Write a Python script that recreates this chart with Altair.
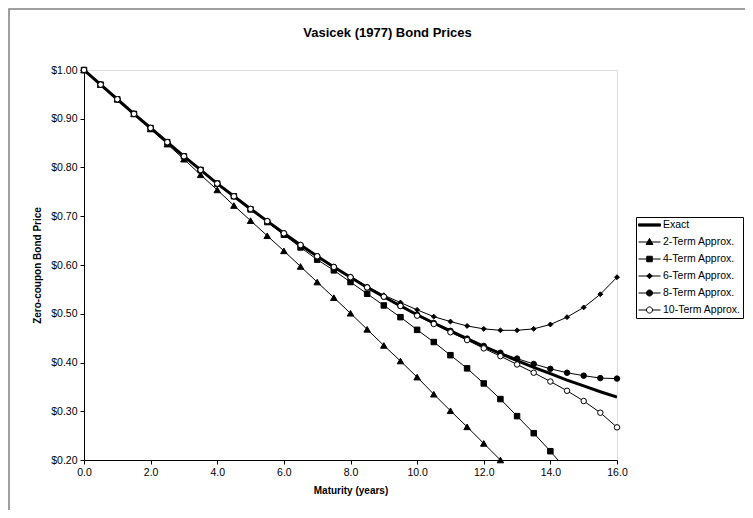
import altair as alt
import pandas as pd

maturity = [0.0, 0.5, 1.0, 1.5, 2.0, 2.5, 3.0, 3.5, 4.0, 4.5, 5.0, 5.5, 6.0, 6.5, 7.0, 7.5, 8.0,
            8.5, 9.0, 9.5, 10.0, 10.5, 11.0, 11.5, 12.0, 12.5, 13.0, 13.5, 14.0, 14.5, 15.0, 15.5, 16.0]
exact = [1.000, 0.970, 0.940, 0.910, 0.881, 0.852, 0.823, 0.795, 0.767, 0.741, 0.715, 0.690, 0.665, 0.641, 0.618, 0.596, 0.575,
         0.554, 0.535, 0.516, 0.498, 0.481, 0.465, 0.449, 0.433, 0.418, 0.404, 0.390, 0.377, 0.364, 0.352, 0.340, 0.329]
term2 = [1.000, 0.970, 0.940, 0.910, 0.879, 0.848, 0.817, 0.785, 0.754, 0.722, 0.691, 0.660, 0.629, 0.597, 0.565, 0.533, 0.501,
         0.468, 0.435, 0.403, 0.370, 0.335, 0.301, 0.268, 0.234, 0.200, 0.165, None, None, None, None, None, None]
term4 = [1.000, 0.970, 0.940, 0.910, 0.881, 0.852, 0.823, 0.795, 0.767, 0.741, 0.714, 0.688, 0.662, 0.636, 0.611, 0.589, 0.565,
         0.541, 0.517, 0.493, 0.467, 0.442, 0.415, 0.388, 0.357, 0.325, 0.290, 0.255, 0.218, 0.178, None, None, None]
term6 = [1.000, 0.970, 0.940, 0.910, 0.881, 0.852, 0.823, 0.795, 0.767, 0.741, 0.715, 0.690, 0.665, 0.641, 0.618, 0.596, 0.576,
         0.556, 0.538, 0.523, 0.508, 0.494, 0.484, 0.475, 0.469, 0.466, 0.466, 0.469, 0.478, 0.493, 0.513, 0.540, 0.575]
term8 = [1.000, 0.970, 0.940, 0.910, 0.881, 0.852, 0.823, 0.795, 0.767, 0.741, 0.715, 0.690, 0.665, 0.641, 0.618, 0.596, 0.575,
         0.554, 0.535, 0.516, 0.498, 0.481, 0.465, 0.449, 0.434, 0.420, 0.408, 0.397, 0.387, 0.379, 0.373, 0.368, 0.367]
term10 = [1.000, 0.970, 0.940, 0.910, 0.881, 0.852, 0.823, 0.795, 0.767, 0.741, 0.715, 0.690, 0.665, 0.641, 0.618, 0.596, 0.575,
          0.554, 0.535, 0.516, 0.496, 0.479, 0.462, 0.446, 0.429, 0.413, 0.396, 0.379, 0.361, 0.342, 0.321, 0.297, 0.267]

series_names = ["Exact", "2-Term Approx.", "4-Term Approx.", "6-Term Approx.", "8-Term Approx.", "10-Term Approx."]
x_ticks = [0, 2, 4, 6, 8, 10, 12, 14, 16]
y_ticks = [0.2, 0.3, 0.4, 0.5, 0.6, 0.7, 0.8, 0.9, 1.0]
title_text = "Vasicek (1977) Bond Prices"
x_title = "Maturity (years)"
y_title = "Zero-coupon Bond Price"

rows = []
for name, vals in zip(series_names, [exact, term2, term4, term6, term8, term10]):
    for t, v in zip(maturity, vals):
        if v is not None:
            rows.append({"t": t, "price": v, "series": name})
df = pd.DataFrame(rows)

FONT = "Liberation Sans"
xscale = alt.Scale(domain=[0, 16], nice=False, zero=False)
yscale = alt.Scale(domain=[0.2, 1.0], nice=False, zero=False)

xaxis = alt.Axis(values=x_ticks, format=".1f", title=x_title, grid=False,
                 labelFont=FONT, labelFontSize=10.5, labelColor="black", labelPadding=3,
                 titleFont=FONT, titleFontSize=10, titleFontWeight="bold", titleColor="black", titlePadding=8,
                 domainColor="black", tickColor="black", tickSize=4, labelFlush=False)
yaxis = alt.Axis(values=y_ticks, format="$.2f", title=y_title, grid=False,
                 labelFont=FONT, labelFontSize=10.5, labelColor="black", labelPadding=3,
                 titleFont=FONT, titleFontSize=10, titleFontWeight="bold", titleColor="black", titlePadding=8,
                 domainColor="black", tickColor="black", tickSize=4, labelFlush=False)

base = alt.Chart(df)
X = alt.X("t:Q", scale=xscale, axis=xaxis)
Y = alt.Y("price:Q", scale=yscale, axis=yaxis)

frame = alt.Chart(pd.DataFrame({"k": [0]})).mark_rect(
    fill=None, stroke="#808080", strokeWidth=1.5
).encode(x=alt.value(-75), x2=alt.value(720), y=alt.value(-61), y2=alt.value(480))

thin_lines = base.transform_filter("datum.series != 'Exact'").mark_line(
    clip=True, color="black", strokeWidth=1
).encode(x=X, y=Y, detail="series:N")

exact_line = base.transform_filter("datum.series == 'Exact'").mark_line(
    clip=True, color="black", strokeWidth=3
).encode(x=X, y=Y)

marker_specs = [
    ("2-Term Approx.", "triangle-up", 42, "black"),
    ("4-Term Approx.", "square", 30, "black"),
    ("6-Term Approx.", "diamond", 24, "black"),
    ("8-Term Approx.", "circle", 30, "black"),
    ("10-Term Approx.", "circle", 30, "white"),
]
marker_layers = []
for name, shape, size, fill in marker_specs:
    marker_layers.append(
        base.transform_filter(f"datum.series == '{name}' && datum.price >= 0.2").mark_point(
            shape=shape, size=size, filled=True, fill=fill, stroke="black", strokeWidth=1, opacity=1
        ).encode(x=X, y=Y)
    )

legend_paths = [
    "M-2,-0.2H2V0.2H-2Z",
    "M-2,0H2M0,-0.65L0.62,0.45H-0.62Z",
    "M-2,0H2M-0.5,-0.5H0.5V0.5H-0.5Z",
    "M-2,0H2M0,-0.5L0.5,0L0,0.5L-0.5,0Z",
    "M-2,0H2M0.55,0A0.55,0.55,0,1,1,-0.55,0A0.55,0.55,0,1,1,0.55,0Z",
    "M-2,0H-0.55M0.55,0H2M0.55,0A0.55,0.55,0,1,1,-0.55,0A0.55,0.55,0,1,1,0.55,0Z",
]
legend_fills = ["black", "black", "black", "black", "black", "white"]
legend_strokes = ["black"] * 6
leg = alt.Legend(title=None, orient="none", legendX=552, legendY=147, direction="vertical",
                 labelFont=FONT, labelFontSize=10.5, labelColor="black", labelLimit=200,
                 symbolSize=121, symbolStrokeWidth=1, symbolStrokeColor="black",
                 symbolOffset=5.5, labelOffset=7.5, padding=2, rowPadding=5,
                 strokeColor="black", fillColor="white", cornerRadius=0)

legend_layer = base.transform_filter("false").transform_calculate(entry="datum.series").mark_point(
    filled=True, stroke="black", strokeWidth=1, opacity=1
).encode(
    x=X, y=Y,
    shape=alt.Shape("entry:N", scale=alt.Scale(domain=series_names, range=legend_paths), legend=leg),
    fill=alt.Fill("entry:N", scale=alt.Scale(domain=series_names, range=legend_fills), legend=leg),
    stroke=alt.Stroke("entry:N", scale=alt.Scale(domain=series_names, range=legend_strokes), legend=leg),
)

chart = alt.layer(frame, thin_lines, exact_line, *marker_layers, legend_layer).properties(
    width=533, height=390,
    autosize=alt.AutoSizeParams(type="none"),
    padding={"left": 76, "top": 62, "right": 128, "bottom": 50},
    title=alt.Title(title_text, font=FONT, fontSize=13, fontWeight="bold", color="black",
                    anchor="middle", dx=37, offset=-32),
).configure_view(stroke="#808080", strokeWidth=1).configure(background="white")

chart.save("out.html", embed_options={"renderer": "svg", "actions": False})
